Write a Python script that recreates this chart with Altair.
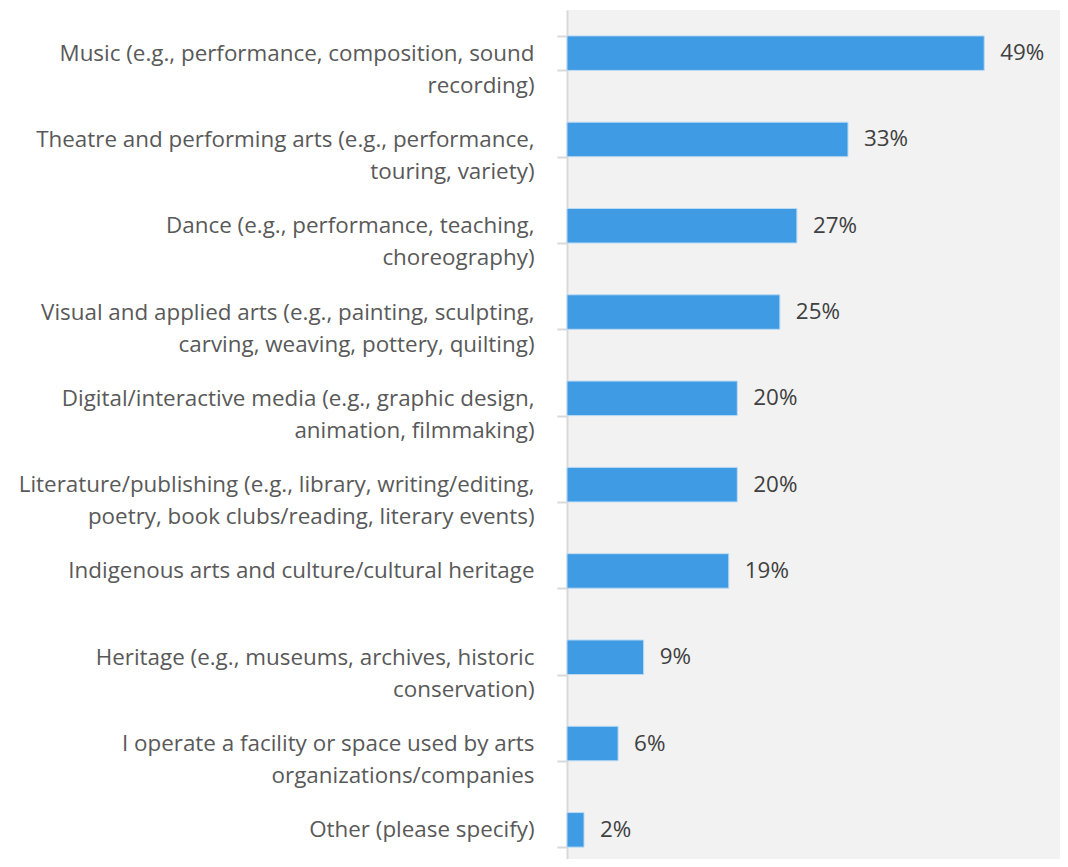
import altair as alt
import pandas as pd

categories = [
    "Music (e.g., performance, composition, sound\nrecording)",
    "Theatre and performing arts (e.g., performance,\ntouring, variety)",
    "Dance (e.g., performance, teaching,\nchoreography)",
    "Visual and applied arts (e.g., painting, sculpting,\ncarving, weaving, pottery, quilting)",
    "Digital/interactive media (e.g., graphic design,\nanimation, filmmaking)",
    "Literature/publishing (e.g., library, writing/editing,\npoetry, book clubs/reading, literary events)",
    "Indigenous arts and culture/cultural heritage",
    "Heritage (e.g., museums, archives, historic\nconservation)",
    "I operate a facility or space used by arts\norganizations/companies",
    "Other (please specify)",
]
values = [0.49, 0.33, 0.27, 0.25, 0.20, 0.20, 0.19, 0.09, 0.06, 0.02]

df = pd.DataFrame({"cat": categories, "val": values})

FONT = "Open Sans"
FS = 22.4

y_enc = alt.Y(
    "cat:N",
    sort=categories,
    title=None,
    scale=alt.Scale(paddingInner=0.6, paddingOuter=0.3, range=[0, 863]),
    axis=alt.Axis(
        labelExpr="split(datum.label, '\\n')",
        labelFont=FONT,
        labelFontSize=FS,
        labelColor="#595959",
        labelLineHeight=32,
        labelPadding=23,
        labelLimit=0,
        tickBand="extent",
        tickSize=10,
        tickWidth=2,
        tickColor="#d9d9d9",
        domainColor="#d9d9d9",
        domainWidth=2,
        grid=False,
    ),
)

x_enc = alt.X(
    "val:Q",
    title=None,
    scale=alt.Scale(domain=[0, 0.579], nice=False),
    axis=None,
)

bars = alt.Chart(df).mark_bar(
    color="#3f9be3", stroke="#bcdaf3", strokeWidth=1
).encode(y=y_enc, x=x_enc)

labels = alt.Chart(df).mark_text(
    align="left", baseline="middle", dx=16, font=FONT, fontSize=FS, color="#404040"
).encode(
    y=alt.Y("cat:N", sort=categories),
    x="val:Q",
    text=alt.Text("val:Q", format=".0%"),
)

chart = (
    alt.layer(bars, labels)
    .properties(
        width=493,
        height=849,
        padding={"left": 559, "top": 2, "right": 0, "bottom": 0},
        autosize=alt.AutoSizeParams(type="none"),
        background="white",
    )
    .configure_view(fill="#f2f2f2", stroke=None)
)

chart.save("out.html", embed_options={"renderer": "svg", "actions": False})
